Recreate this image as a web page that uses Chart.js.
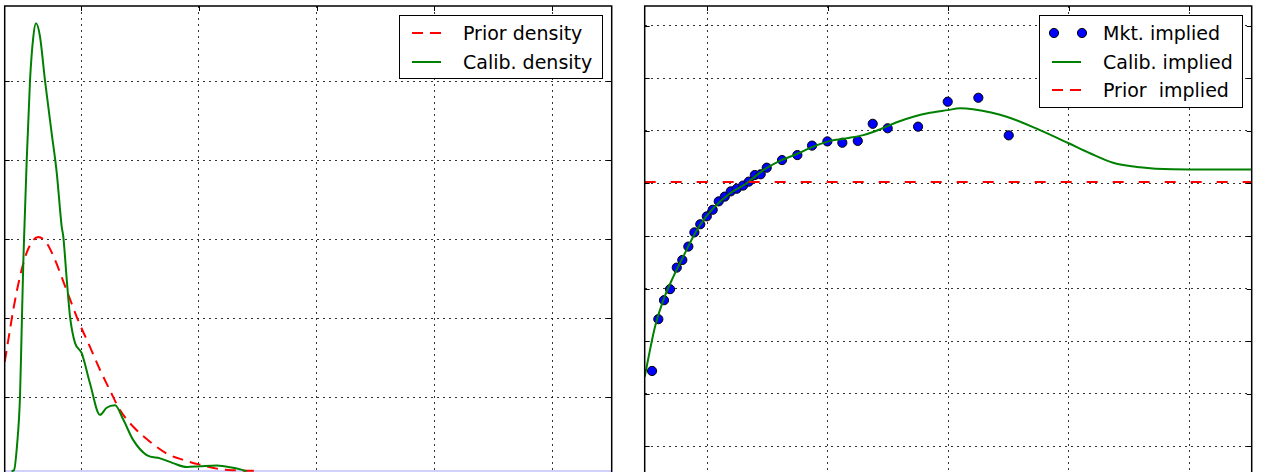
<!DOCTYPE html>
<html>
<head>
<meta charset="utf-8">
<script src="https://cdn.jsdelivr.net/npm/chart.js@4"></script>
<style>
  html, body { margin: 0; padding: 0; background: #fff; width: 1264px; height: 472px; overflow: hidden; }
  canvas { position: absolute; top: 0; }
  #densityChart { left: 0; }
  #impliedChart { left: 630px; }
  .legend { position: absolute; background: #fff; border: 1.5px solid #000; box-sizing: border-box;
            font-family: "DejaVu Sans", sans-serif; font-size: 19px; color: #000; }
  .legend .row { position: absolute; left: 0; height: 28px; line-height: 28px; white-space: pre; }
  .legend svg { position: absolute; left: 0; top: 0; }
  .legend span { position: absolute; left: 63px; top: 0; white-space: pre; }
</style>
</head>
<body>
<canvas id="densityChart" width="628" height="520"></canvas>
<canvas id="impliedChart" width="634" height="520"></canvas>
<div id="densityLegend" class="legend" style="left:399px;top:15px;width:204px;height:64px"></div>
<div id="impliedLegend" class="legend" style="left:1039px;top:15px;width:204px;height:93px"></div>
<script>
// left panel: densities
const priorDensityX = [0.352, 0.383, 0.425, 0.482, 0.539, 0.595, 0.637, 0.709, 0.779, 0.879, 0.977, 1.076,
  1.161, 1.246, 1.331, 1.444, 1.586, 1.728, 1.869, 2.011, 2.153, 2.291, 2.52];
const priorDensityY = [1.38, 1.66, 2.04, 2.46, 2.76, 2.92, 2.96, 2.88, 2.67, 2.28, 1.90, 1.57,
  1.28, 1.02, 0.77, 0.56, 0.37, 0.22, 0.14, 0.08, 0.03, 0.01, 0];
const calibDensityX = [0.41, 0.431, 0.457, 0.482, 0.496, 0.510, 0.516, 0.539, 0.567, 0.595, 0.618,
  0.652, 0.694, 0.751, 0.794, 0.836, 0.850, 0.879, 0.907, 0.949, 1.006, 1.076, 1.161, 1.218, 1.289,
  1.359, 1.444, 1.558, 1.671, 1.781, 1.898, 2.011, 2.153, 2.291, 2.407];
const calibDensityY = [0, 0.01, 0.33, 0.94, 1.78, 2.63, 2.92, 3.93, 4.94, 5.49, 5.66,
  5.49, 4.94, 4.27, 3.77, 3.09, 2.96, 2.42, 1.95, 1.62, 1.49, 1.11, 0.71, 0.80, 0.83,
  0.65, 0.39, 0.20, 0.16, 0.10, 0.05, 0.06, 0.07, 0.04, 0];
const densityXTicks = [1, 2, 3, 4, 5];
const densityYTicks = [0.932, 1.93, 2.929, 3.928, 4.93];

// right panel: implied vols
const strikes = [0.544, 0.596, 0.643, 0.693, 0.749, 0.795, 0.845, 0.895, 0.944, 0.998, 1.047, 1.097,
  1.147, 1.197, 1.246, 1.299, 1.346, 1.396, 1.445, 1.495, 1.622, 1.749, 1.871, 1.998, 2.122, 2.250,
  2.374, 2.498, 2.750, 2.996, 3.250, 3.502];
const mktImplied = [0.1487, 0.1684, 0.1756, 0.1798, 0.1880, 0.1909, 0.1960, 0.2014, 0.2045, 0.2075, 0.2100, 0.2132,
  0.2150, 0.2170, 0.2180, 0.2192, 0.2207, 0.2232, 0.2235, 0.2260, 0.2289, 0.2308, 0.2344, 0.2360, 0.2355, 0.2362,
  0.2427, 0.2410, 0.2416, 0.2511, 0.2526, 0.2383];
const calibImpliedX = [0.483, 0.527, 0.569, 0.638, 0.721, 0.803, 0.886, 0.942, 1.052, 1.191, 1.329, 1.467,
  1.605, 1.744, 1.881, 2.020, 2.158, 2.296, 2.434, 2.573, 2.711, 2.849, 2.996, 3.098, 3.206, 3.485,
  3.761, 3.999, 4.176, 4.367, 4.590, 4.864, 5.171, 5.517];
const calibImpliedY = [0.1465, 0.1567, 0.1656, 0.1757, 0.1846, 0.1922, 0.1998, 0.2042, 0.2106, 0.2163, 0.2201, 0.2251,
  0.2286, 0.2312, 0.2340, 0.2362, 0.2372, 0.2384, 0.2406, 0.2433, 0.2454, 0.2469, 0.2479, 0.2486, 0.2482, 0.2454,
  0.2403, 0.2353, 0.2315, 0.2279, 0.2262, 0.2254, 0.2253, 0.2253];
const priorImplied = 0.2206;
const impliedXTicks = [1, 2, 3, 4, 5];
const impliedYTicks = [0.12, 0.14, 0.16, 0.18, 0.20, 0.22, 0.24, 0.26, 0.28];

const zip = (xs, ys) => xs.map((x, i) => ({ x: x, y: ys[i] }));

// matplotlib-like frame with inward tick marks
const framePlugin = {
  id: 'frame',
  afterDatasetsDraw(chart) {
    const { ctx, chartArea: a, scales } = chart;
    ctx.save();
    ctx.strokeStyle = '#000';
    ctx.lineWidth = 1;
    ctx.beginPath();
    scales.y.ticks.forEach(t => {
      const py = Math.round(scales.y.getPixelForValue(t.value)) + 0.5;
      ctx.moveTo(a.left, py); ctx.lineTo(a.left + 5, py);
      ctx.moveTo(a.right, py); ctx.lineTo(a.right - 5, py);
    });
    scales.x.ticks.forEach(t => {
      const px = Math.round(scales.x.getPixelForValue(t.value)) + 0.5;
      ctx.moveTo(px, a.top); ctx.lineTo(px, a.top + 5);
      ctx.moveTo(px, a.bottom); ctx.lineTo(px, a.bottom - 5);
    });
    ctx.stroke();
    ctx.lineWidth = 1.5;
    ctx.strokeRect(a.left, a.top, a.right - a.left, a.bottom - a.top);
    ctx.restore();
  }
};

function axis(min, max, tickValues) {
  return {
    type: 'linear',
    min: min,
    max: max,
    ticks: { display: false },
    grid: { color: 'rgba(0,0,0,0.8)', lineWidth: 1, drawTicks: false },
    border: { display: false, dash: [2, 4] },
    afterBuildTicks: scale => { scale.ticks = tickValues.map(v => ({ value: v })); }
  };
}

function baseOptions(padding, x, y) {
  return {
    responsive: false,
    animation: false,
    layout: { padding: padding },
    plugins: { legend: { display: false }, tooltip: { enabled: false } },
    scales: { x: x, y: y }
  };
}

const densityChart = new Chart(document.getElementById('densityChart'), {
  type: 'scatter',
  data: {
    datasets: [
      {
        label: 'Calib. density',
        data: zip(calibDensityX, calibDensityY),
        showLine: true, borderColor: '#008000', borderWidth: 2,
        pointRadius: 0, cubicInterpolationMode: 'monotone'
      },
      {
        label: 'Prior density',
        data: zip(priorDensityX, priorDensityY),
        showLine: true, borderColor: '#ff0000', borderWidth: 2, borderDash: [11, 7],
        pointRadius: 0, cubicInterpolationMode: 'monotone'
      },
      {
        label: '',
        data: [{ x: 0.352, y: 0 }, { x: 5.507, y: 0 }],
        showLine: true, borderColor: 'rgba(90,90,255,0.55)', borderWidth: 1, pointRadius: 0
      }
    ]
  },
  options: baseOptions({ left: 4.7, top: 6, right: 16.3, bottom: 21 },
    axis(0.352, 5.507, densityXTicks), axis(-0.354, 5.879, densityYTicks)),
  plugins: [framePlugin]
});

const impliedChart = new Chart(document.getElementById('impliedChart'), {
  type: 'scatter',
  data: {
    datasets: [
      {
        label: 'Prior  implied',
        data: [{ x: 0.483, y: priorImplied }, { x: 5.517, y: priorImplied }],
        showLine: true, borderColor: '#ff0000', borderWidth: 2, borderDash: [11, 15],
        pointRadius: 0
      },
      {
        label: 'Calib. implied',
        data: zip(calibImpliedX, calibImpliedY),
        showLine: true, borderColor: '#008000', borderWidth: 2,
        pointRadius: 0, cubicInterpolationMode: 'monotone'
      },
      {
        label: 'Mkt. implied',
        data: zip(strikes, mktImplied),
        showLine: false, pointRadius: 4.6, pointBackgroundColor: '#0000ff',
        pointBorderColor: '#000', pointBorderWidth: 1
      }
    ]
  },
  options: baseOptions({ left: 14.7, top: 6, right: 12.3, bottom: 21 },
    axis(0.483, 5.517, impliedXTicks), axis(0.10, 0.2875, impliedYTicks)),
  plugins: [framePlugin]
});

// html legends in matplotlib style, entries taken from the datasets
function buildLegend(el, chart, order) {
  order.forEach((label, i) => {
    const ds = chart.data.datasets.find(d => d.label === label);
    const row = document.createElement('div');
    row.className = 'row';
    row.style.top = (3 + i * 28.5) + 'px';
    row.style.width = '100%';
    let handle;
    if (ds.showLine) {
      const dash = ds.borderDash ? ' stroke-dasharray="11,7"' : '';
      handle = '<line x1="12" y1="14" x2="41" y2="14" stroke="' + ds.borderColor +
        '" stroke-width="2"' + dash + '/>';
    } else {
      handle = '<circle cx="14" cy="14" r="4.6" fill="#0000ff" stroke="#000"/>' +
               '<circle cx="42" cy="14" r="4.6" fill="#0000ff" stroke="#000"/>';
    }
    row.innerHTML = '<svg width="60" height="28">' + handle + '</svg><span>' + ds.label + '</span>';
    el.appendChild(row);
  });
}
buildLegend(document.getElementById('densityLegend'), densityChart, ['Prior density', 'Calib. density']);
buildLegend(document.getElementById('impliedLegend'), impliedChart, ['Mkt. implied', 'Calib. implied', 'Prior  implied']);
</script>
</body>
</html>
